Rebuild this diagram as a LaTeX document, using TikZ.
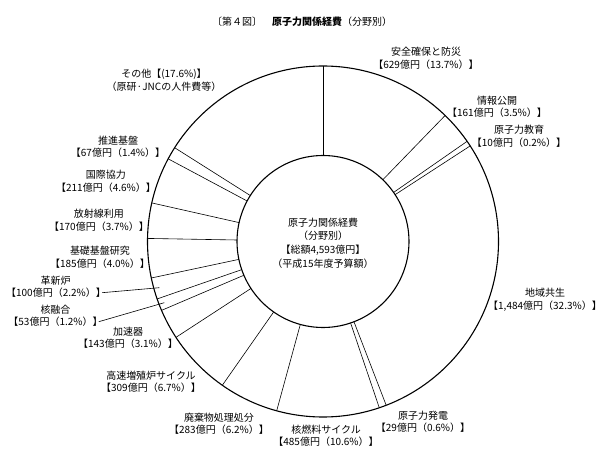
\documentclass[tikz,border=0pt]{standalone}
\usepackage{fontspec}
\setmainfont{Noto Sans CJK JP}
\usetikzlibrary{calc}
\begin{document}
\begin{tikzpicture}[x=1pt,y=-1pt,
  lbl/.style={font=\fontsize{10}{12.5}\selectfont, align=center, inner sep=0pt},
  ctr/.style={font=\fontsize{10}{13.8}\selectfont, align=center, inner sep=0pt},
  ring/.style={line width=1.1pt},
  spoke/.style={line width=0.6pt},
  leader/.style={line width=0.6pt}]
\useasboundingbox (0,0) rectangle (606,465);
\coordinate (c) at (323,241.5);
\foreach \t in {-90,-45.9,-34.8,-33.0,68.9,71.3,105.3,125,146.9,156.9,160.9,168,-179,-167.3,-151.9,-147.7}
  \draw[spoke] ($(c)+(\t:86)$) -- ($(c)+(\t:175.5)$);
\draw[ring] (c) circle[radius=175.5];
\draw[ring] (c) circle[radius=86];

\node[lbl] (title) at (302,21.7) {〔第４図〕　{\bfseries 原子力関係経費}（分野別）};
\node[ctr] (total) at (323,243) {原子力関係経費\\（分野別）\\【総額4,593億円】\\（平成15年度予算額）};

\node[lbl] (anzen) at (426,58.5) {安全確保と防災\\【629億円（13.7\%）】};
\node[lbl] (joho) at (497,107) {情報公開\\【161億円（3.5\%）】};
\node[lbl] (kyoiku) at (519,136.5) {原子力教育\\【10億円（0.2\%）】};
\node[lbl] (chiiki) at (545,300) {地域共生\\【1,484億円（32.3\%）】};
\node[lbl] (hatsuden) at (423,422) {原子力発電\\【29億円（0.6\%）】};
\node[lbl] (kakunen) at (326,436) {核燃料サイクル\\【485億円（10.6\%）】};
\node[lbl] (haiki) at (219,424) {廃棄物処理処分\\【283億円（6.2\%）】};
\node[lbl] (kosoku) at (151,382) {高速増殖炉サイクル\\【309億円（6.7\%）】};
\node[lbl] (kasoku) at (128,338) {加速器\\【143億円（3.1\%）】};
\node[lbl] (kakuyu) at (55.5,310) {核融合};
\node[lbl] (kakuyuv) at (55.5,321.7) {【53億円（1.2\%）】};
\node[lbl] (kakushin) at (55.7,280.7) {革新炉};
\node[lbl] (kakushinv) at (56,292.7) {【100億円（2.2\%）】};
\node[lbl] (kiso) at (100,257.5) {基礎基盤研究\\【185億円（4.0\%）】};
\node[lbl] (hoshasen) at (99,220.5) {放射線利用\\【170億円（3.7\%）】};
\node[lbl] (kokusai) at (106,181.5) {国際協力\\【211億円（4.6\%）】};
\node[lbl] (suishin) at (118,147) {推進基盤\\【67億円（1.4\%）】};
\node[lbl] (sonota) at (164,80.5) {その他【(17.6\%)】\\（原研·JNCの人件費等）};

\coordinate (kakushinp) at (159.3,287.7);
\coordinate (kakuyup) at (164.3,302.7);
\draw[leader] ([xshift=-4pt]kakushinv.east) -- (kakushinp);
\draw[leader] ([xshift=-4pt]kakuyuv.east) -- (kakuyup);
\end{tikzpicture}
\end{document}
